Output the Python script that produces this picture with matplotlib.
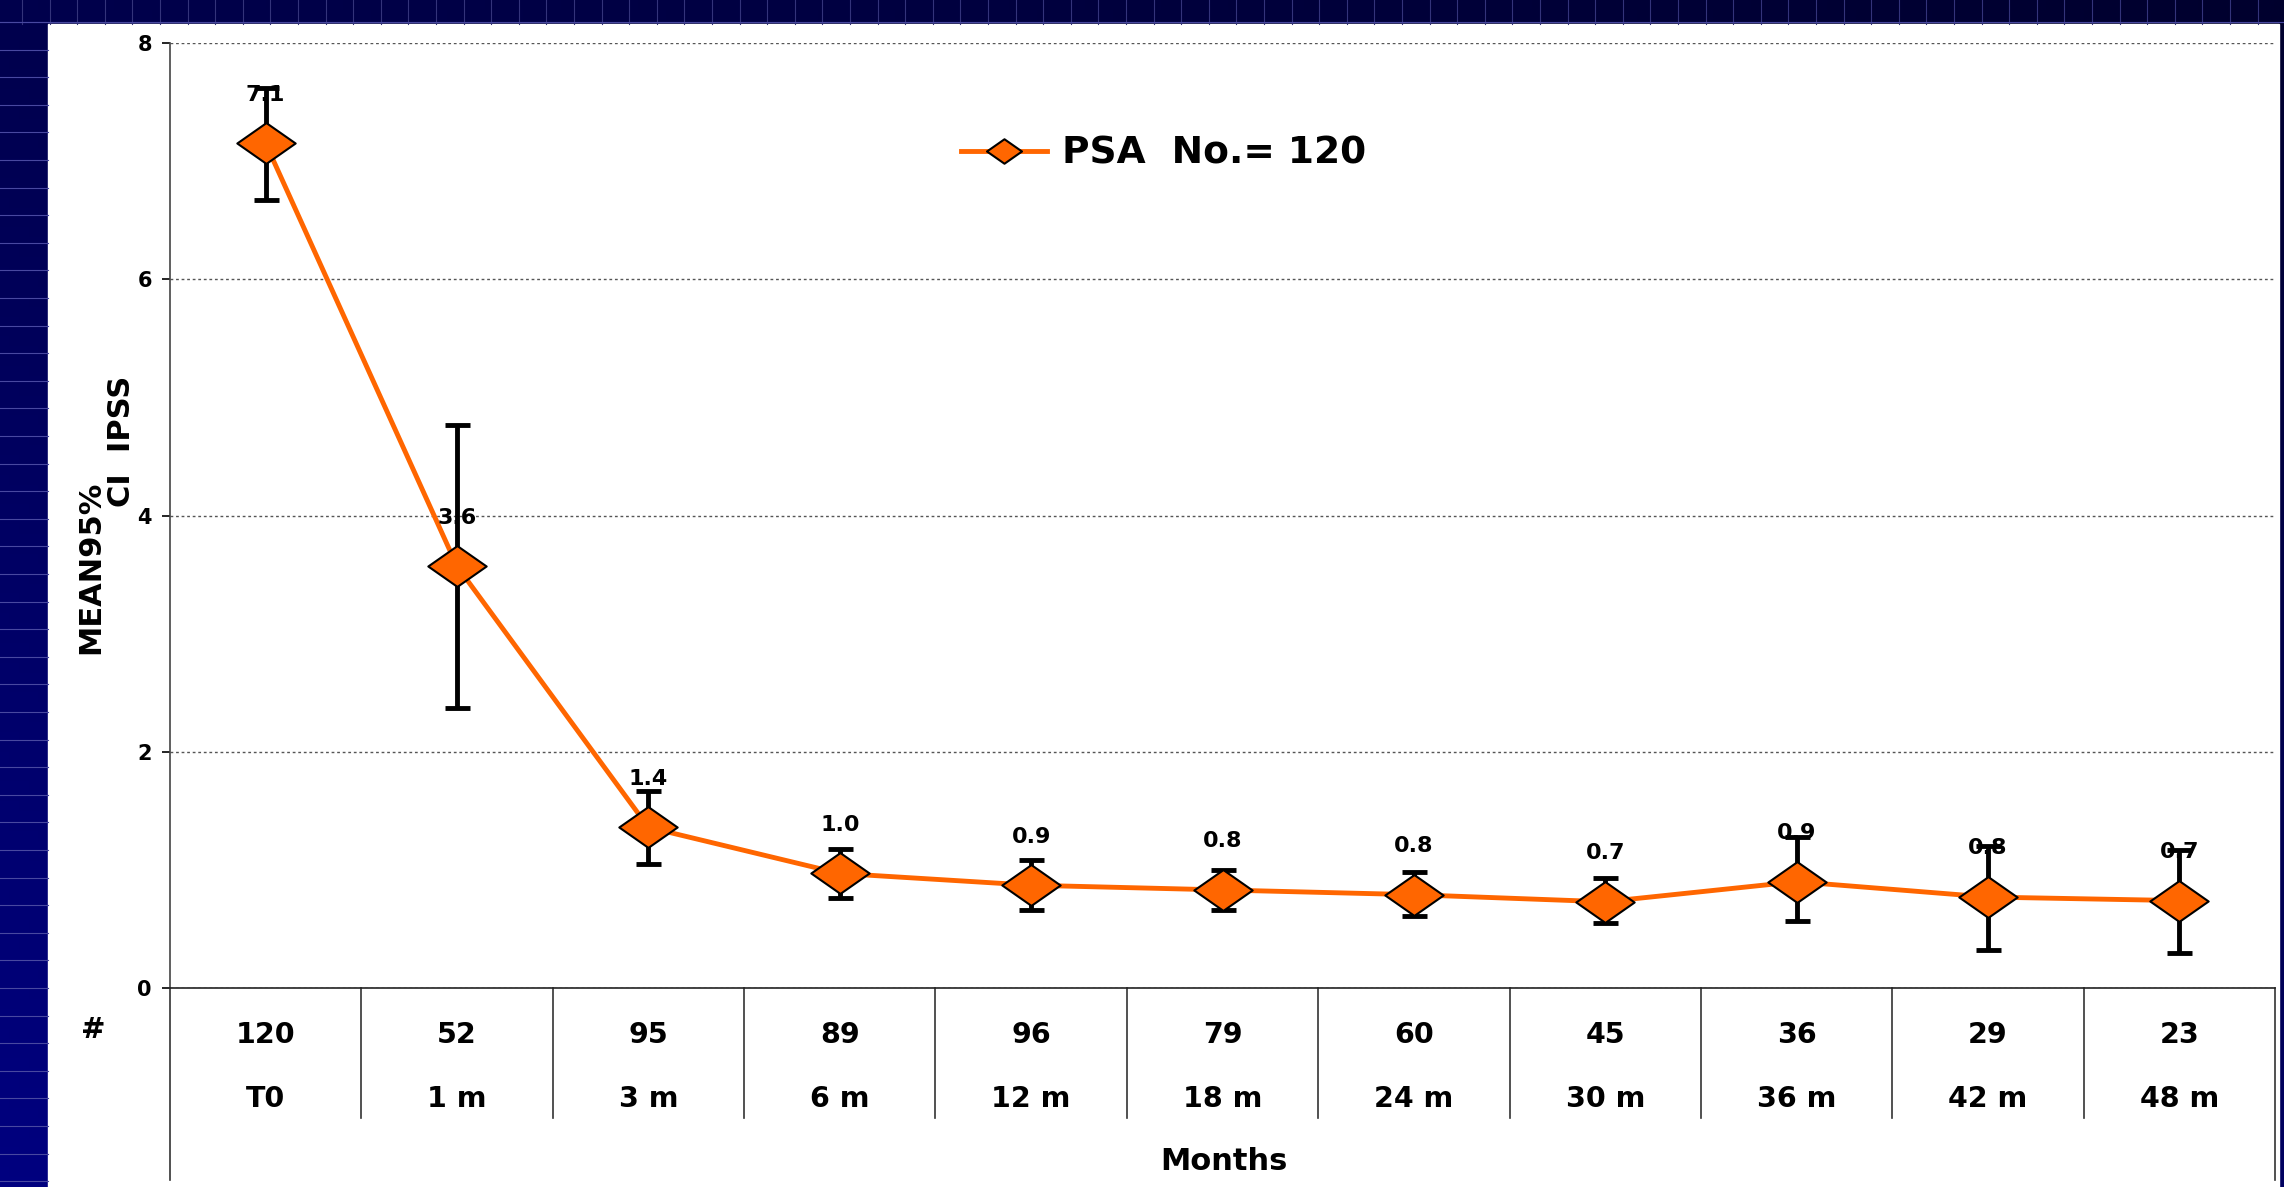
import numpy as np
import matplotlib
matplotlib.use("Agg")
from matplotlib import pyplot as plt
from matplotlib.path import Path
from matplotlib import transforms

plt.rcParams['font.family'] = ['DejaVu Sans']
plt.rcParams['font.weight'] = 'bold'

# data
months = ["T0", "1 m", "3 m", "6 m", "12 m", "18 m", "24 m", "30 m", "36 m", "42 m", "48 m"]
counts = ["120", "52", "95", "89", "96", "79", "60", "45", "36", "29", "23"]
psa_mean = [7.15, 3.57, 1.36, 0.97, 0.87, 0.83, 0.79, 0.73, 0.90, 0.77, 0.74]
ci_upper = [7.62, 4.77, 1.67, 1.18, 1.08, 1.00, 0.98, 0.93, 1.28, 1.20, 1.17]
ci_lower = [6.67, 2.37, 1.05, 0.76, 0.66, 0.66, 0.61, 0.55, 0.57, 0.32, 0.30]
labels = ["7.1", "3.6", "1.4", "1.0", "0.9", "0.8", "0.8", "0.7", "0.9", "0.8", "0.7"]

W, H = 2284, 1187
fig = plt.figure(figsize=(W / 100, H / 100), dpi=100)

# slide background: dark blue gradient with a faint grid
bg = fig.add_axes([0, 0, 1, 1])
yy, xx = np.mgrid[0:1:120j, 0:1:240j]
blue = 0.30 + 0.20 * yy - 0.12 * xx
img = np.dstack([np.zeros_like(blue), np.zeros_like(blue), blue])
bg.imshow(img, extent=[0, W, H, 0], aspect='auto')
for y in np.arange(22, H, 27.6):
    bg.plot([0, 48], [y, y], color='#4848a0', lw=0.8)
for x in np.arange(22, W, 27.6):
    bg.plot([x, x], [0, 24], color='#33337a', lw=0.8)
bg.plot([0, W], [22, 22], color='#4848a0', lw=0.8)
bg.add_patch(plt.Rectangle((48, 24), 2279 - 48, H - 24, color='white'))
bg.set_xlim(0, W)
bg.set_ylim(H, 0)
bg.axis('off')

ax = fig.add_axes([170 / W, 1 - 988 / H, (2275 - 170) / W, (988 - 43) / H])
ax.patch.set_alpha(0)

x = np.arange(len(months))
diamond = Path([(-1, 0), (0, 0.7), (1, 0), (0, -0.7), (-1, 0)],
               [Path.MOVETO, Path.LINETO, Path.LINETO, Path.LINETO, Path.CLOSEPOLY])

yerr = [np.array(psa_mean) - np.array(ci_lower), np.array(ci_upper) - np.array(psa_mean)]
ax.errorbar(x, psa_mean, yerr=yerr, fmt='none', ecolor='black', elinewidth=3.5,
            capsize=9, capthick=3.5, zorder=2)
ax.plot(x, psa_mean, color='#ff6600', lw=3.5, marker=diamond, markersize=42,
        markerfacecolor='#ff6600', markeredgecolor='black', markeredgewidth=1.5,
        label="PSA  No.= 120", zorder=3)

for xi, yi, lab in zip(x, psa_mean, labels):
    ax.annotate(lab, (xi, yi), xytext=(0, 35), textcoords='offset points',
                ha='center', va='center', fontsize=16, fontweight='bold', zorder=4)

ax.set_xlim(-0.5, len(months) - 0.5)
ax.set_ylim(0, 8)
ax.set_yticks([0, 2, 4, 6, 8])
ax.tick_params(axis='y', direction='out', length=6, width=1.2, pad=7, labelsize=15)
ax.set_xticks([])
ax.yaxis.grid(True, linestyle=(0, (2, 2)), color='#555555', lw=1)
ax.set_axisbelow(True)
for s in ['top', 'right']:
    ax.spines[s].set_visible(False)
ax.spines['left'].set_color('#444444')
ax.spines['left'].set_linewidth(1.2)
ax.spines['bottom'].set_color('#222222')
ax.spines['bottom'].set_linewidth(1.2)

# table below the axis
tr = transforms.blended_transform_factory(ax.transData, ax.transAxes)
for b in np.arange(0.5, len(months) - 1, 1):
    ax.plot([b, b], [0, -0.1376], color='#333333', lw=1.2, transform=tr, clip_on=False)
for b in [-0.5, len(months) - 0.5]:
    ax.plot([b, b], [0, -0.203], color='#333333', lw=1.2, transform=tr, clip_on=False)
for xi, c, m in zip(x, counts, months):
    ax.text(xi, -0.0497, c, transform=tr, ha='center', va='center', fontsize=20.5, fontweight='bold')
    ax.text(xi, -0.1175, m, transform=tr, ha='center', va='center', fontsize=20.5, fontweight='bold')

fig.text(93 / W, 1 - 1030 / H, "#", ha='center', va='center', fontsize=21, fontweight='bold')
fig.text(1224 / W, 1 - 1161 / H, "Months", ha='center', va='center', fontsize=22, fontweight='bold')
fig.text(91 / W, 1 - 567 / H, "MEAN95%", rotation=90, ha='center', va='center',
         fontsize=22, fontweight='bold')
fig.text(122 / W, 1 - 507 / H, "CI  IPSS", rotation=90, ha='center', va='bottom',
         fontsize=22, fontweight='bold')

ax.legend(loc='center left', bbox_to_anchor=(961 / W, 1 - 154 / H), bbox_transform=fig.transFigure,
          frameon=False, handlelength=2.3, handletextpad=0.4, borderpad=0,
          borderaxespad=0, markerscale=0.6, prop={'weight': 'bold', 'size': 27})

fig.savefig("out.png", dpi=100)
